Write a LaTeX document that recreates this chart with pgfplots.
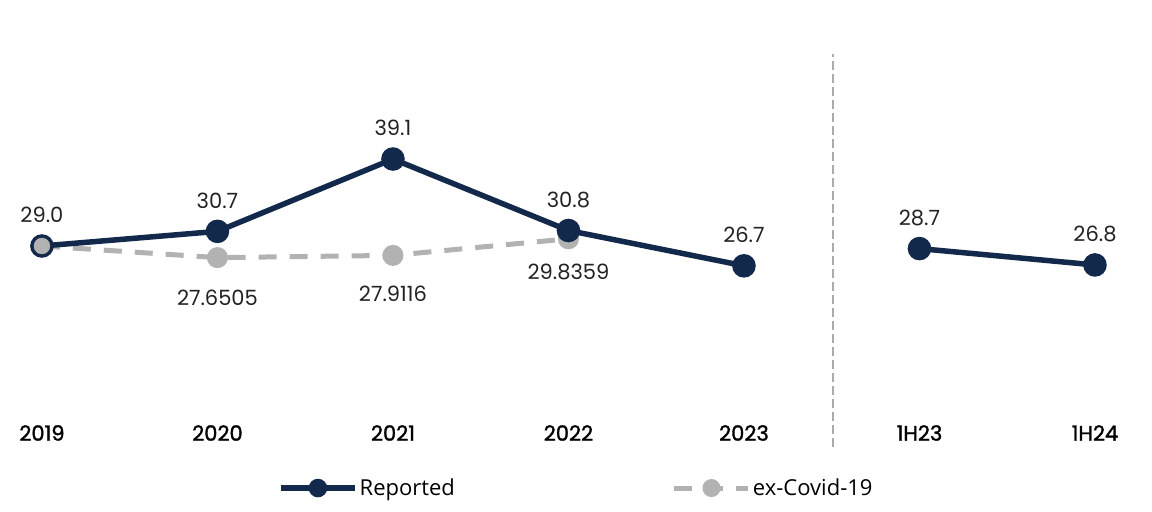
\documentclass[border=0pt]{standalone}
\usepackage{pgfplots}
\pgfplotsset{compat=1.18}
\usepackage{fontspec}
\setmainfont{Poppins}
\newfontfamily\tickfont[FakeBold=1.5]{Poppins}
\newfontfamily\legendfont{Open Sans}
\definecolor{navy}{HTML}{13294B}
\definecolor{covid}{HTML}{B2B2B2}
\definecolor{sep}{HTML}{ABABAB}
\definecolor{lab}{HTML}{222222}

\begin{document}
\begin{tikzpicture}
\begin{axis}[
    scale only axis,
    width=1152pt, height=512pt,
    xmin=-0.239, xmax=6.325,
    ymin=-1.89, ymax=57.57,
    clip=false,
    axis line style={draw=none},
    major tick length=0pt,
    ytick=\empty,
    xtick={0,...,6},
    xticklabels={2019,2020,2021,2022,2023,1H23,1H24},
    xticklabel style={font=\tickfont\fontsize{21}{24}\selectfont, text=black, anchor=center, yshift=79pt},
    nodes near coords align={center},
    every node near coord/.append style={font=\fontsize{21}{24}\selectfont, text=lab},
    legend style={at={(axis cs:1.345,0.89)}, anchor=west, draw=none, fill=none,
        legend columns=2, inner sep=0pt,
        font=\legendfont\fontsize{22}{24}\selectfont,
        /tikz/every even column/.append style={column sep=215pt}},
    legend cell align=left,
    reverse legend,
    legend image code/.code={\draw[mark repeat=2,mark phase=2,mark size=6.5pt,#1] plot coordinates {(0pt,0pt) (37pt,0pt) (74pt,0pt)};},
]

% separator between full years and half years
\addplot[sep, line width=2.5pt, dash pattern=on 9pt off 4pt, forget plot]
    coordinates {(4.507,5.66) (4.507,51.3)};

% ex-Covid-19
\addplot[covid, line width=5pt, dash pattern=on 18pt off 13pt,
    mark=*, mark size=8pt, mark options={solid, fill=covid, draw=covid},
    nodes near coords, point meta=explicit symbolic,
    visualization depends on={\thisrow{dy} \as \dy},
    every node near coord/.append style={yshift=\dy pt}]
    table[x=x, y=y, meta=lab] {
x y       dy  lab
0 29.0    0   {}
1 27.6505 -40 27.6505
2 27.9116 -38 27.9116
3 29.8359 -33 29.8359
};
\addlegendentry{ex-Covid-19}

% reported
\addplot[navy, line width=5.5pt, mark=*, mark size=9pt, mark options={fill=navy, draw=navy},
    nodes near coords, point meta=explicit symbolic,
    every node near coord/.append style={yshift=31pt}]
    table[x=x, y=y, meta=lab] {
x y    lab
0 29.0 29.0
1 30.7 30.7
2 39.1 39.1
3 30.8 30.8
4 26.7 26.7
};
\addlegendentry{Reported}

\addplot[navy, line width=5.5pt, mark=*, mark size=9pt, mark options={fill=navy, draw=navy},
    nodes near coords, point meta=explicit symbolic,
    every node near coord/.append style={yshift=31pt}, forget plot]
    table[x=x, y=y, meta=lab] {
x y    lab
5 28.7 28.7
6 26.8 26.8
};

% 2019 ex-Covid marker sits on top of the reported one
\addplot[only marks, mark=*, mark size=8pt, mark options={fill=covid, draw=covid}, forget plot]
    coordinates {(0,29.0)};
\end{axis}
\pgfresetboundingbox
\path (current axis.south west) rectangle (current axis.north east);
\end{tikzpicture}
\end{document}
